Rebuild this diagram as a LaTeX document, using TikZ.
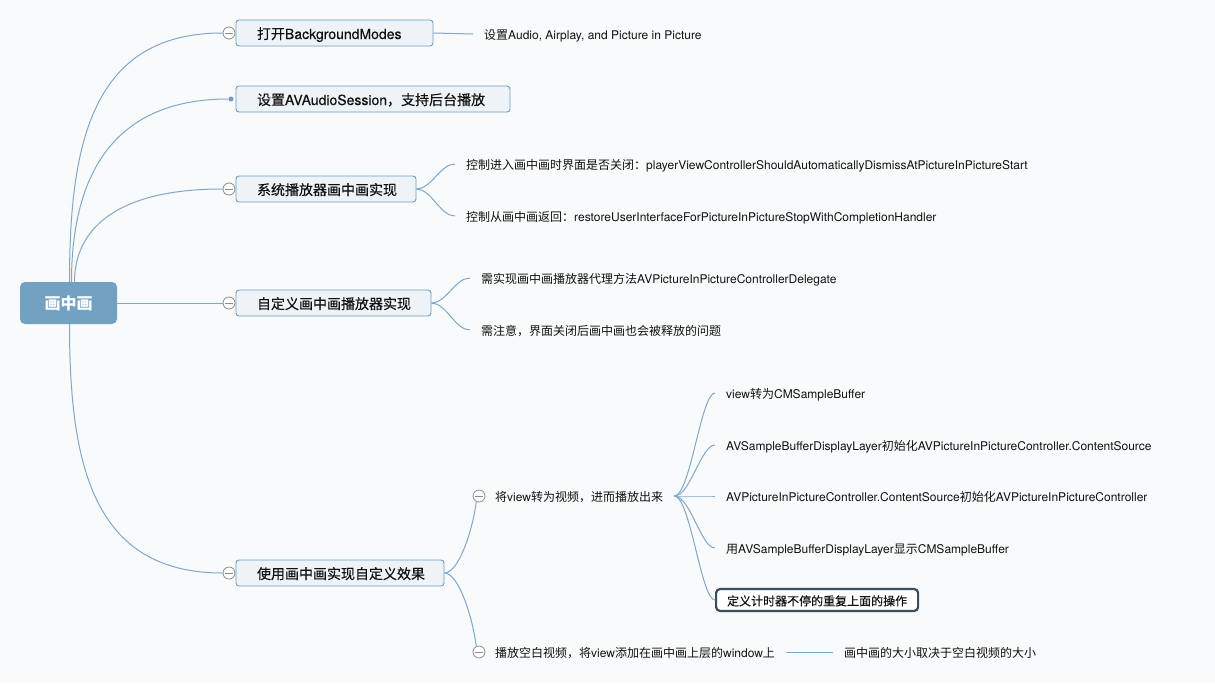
\documentclass[tikz,border=0pt]{standalone}
\usepackage{fontspec}
\setmainfont{TeX Gyre Heros}
\newfontfamily\cjk{Noto Sans CJK SC}
\newfontfamily\boxlat{TeX Gyre Heros}[FakeBold=0.3]
\newfontfamily\boxcjk{Noto Sans CJK SC}[FakeBold=0.3]
\newcommand\zhfont{\cjk}
\newcommand\zh[1]{{\zhfont #1}}
\definecolor{bg}{HTML}{F9FAFB}
\definecolor{linec}{HTML}{7FA8CA}
\definecolor{boxb}{HTML}{6E9DC3}
\definecolor{boxf}{HTML}{EEF3F7}
\definecolor{rootc}{HTML}{73A1C2}
\definecolor{txt}{HTML}{111111}
\definecolor{darkb}{HTML}{3A4D5E}
\definecolor{circ}{HTML}{8C8C8C}
\tikzset{
  conn/.style={draw=linec, line width=1pt},
  branch/.style={draw=boxb, fill=boxf, rounded corners=3pt, line width=0.9pt,
    minimum height=26pt, inner xsep=21pt, inner ysep=0pt, align=left,
    text height=13pt, text depth=1pt,
    font=\let\zhfont\boxcjk\boxlat\fontsize{14}{16}\selectfont, text=txt},
  leaf/.style={anchor=west, inner xsep=11pt, inner ysep=2pt,
    text height=11.5pt, text depth=0.5pt,
    font=\fontsize{12}{14}\selectfont, text=txt},
  collapse/.style={circle, draw=circ, fill=white, line width=0.8pt,
    minimum size=12pt, inner sep=0pt,
    path picture={\draw[circ, line width=0.8pt]
      ([xshift=-3.6pt]path picture bounding box.center) --
      ([xshift=3.6pt]path picture bounding box.center);}},
  dotm/.style={circle, fill=boxb, minimum size=5pt, inner sep=0pt},
  rootbox/.style={fill=rootc, rounded corners=5pt, minimum width=97pt,
    minimum height=42pt, inner sep=0pt, text=white,
    font=\cjk\bfseries\fontsize{16}{18}\selectfont},
  lastbox/.style={anchor=west, draw=darkb, line width=2.2pt, fill=white,
    rounded corners=4pt, minimum height=22pt, inner xsep=11pt, inner ysep=0pt,
    text height=11.5pt, text depth=0.5pt,
    font=\let\zhfont\boxcjk\fontsize{12}{14}\selectfont, text=txt}
}
\begin{document}
\begin{tikzpicture}[x=1pt, y=-1pt]
\useasboundingbox (0,0) rectangle (1215,683);
\fill[bg] (0,0) rectangle (1215,683);

% root
\node[rootbox] (root) at (68.5,303) {画中画};

% branches
\node[branch, text width=155pt] (b1) at (334.5,33) {\zh{打开}BackgroundModes};
\node[branch, text width=232pt] (b2) at (373,99) {\zh{设置}AVAudioSession\zh{，支持后台播放}};
\node[branch, text width=138pt] (b3) at (326,189) {\zh{系统播放器画中画实现}};
\node[branch, text width=153pt] (b4) at (333.5,303) {\zh{自定义画中画播放器实现}};
\node[branch, text width=166pt] (b5) at (340,573) {\zh{使用画中画实现自定义效果}};

\node[collapse] (c1) at (229,33) {};
\node[dotm] (c2) at (231,99) {};
\node[collapse] (c3) at (229,189) {};
\node[collapse] (c4) at (229,303) {};
\node[collapse] (c5) at (229,573) {};

% root connectors
\draw[conn] ([xshift=1pt]root.north) .. controls +(0,-140) and +(-130,0) .. (c1.west);
\draw[conn] ([xshift=3pt]root.north) .. controls +(0,-100) and +(-120,0) .. (c2.west);
\draw[conn] ([xshift=6pt]root.north) .. controls +(0,-50) and +(-110,0) .. (c3.west);
\draw[conn] (root.east) -- (c4.west);
\draw[conn] ([xshift=1pt]root.south) .. controls +(0,140) and +(-130,0) .. (c5.west);

% branch 1
\node[leaf] (l1) at (473,34) {\zh{设置}Audio, Airplay, and Picture in Picture};
\draw[conn] (b1.east) -- (l1.west);

% branch 3
\node[leaf] (l31) at (455,164) {\zh{控制进入画中画时界面是否关闭：}playerViewControllerShouldAutomaticallyDismissAtPictureInPictureStart};
\node[leaf] (l32) at (455,216) {\zh{控制从画中画返回：}restoreUserInterfaceForPictureInPictureStopWithCompletionHandler};
\draw[conn] (b3.east) .. controls +(15,0) and +(-15,0) .. (l31.west);
\draw[conn] (b3.east) .. controls +(15,0) and +(-15,0) .. (l32.west);

% branch 4
\node[leaf] (l41) at (470,278) {\zh{需实现画中画播放器代理方法}AVPictureInPictureControllerDelegate};
\node[leaf] (l42) at (470,330) {\zh{需注意，界面关闭后画中画也会被释放的问题}};
\draw[conn] (b4.east) .. controls +(15,0) and +(-15,0) .. (l41.west);
\draw[conn] (b4.east) .. controls +(15,0) and +(-15,0) .. (l42.west);

% branch 5
\node[collapse] (c51) at (479,496) {};
\node[leaf] (s1) at (484,496) {\zh{将}view\zh{转为视频，进而播放出来}};
\node[collapse] (c52) at (479,652) {};
\node[leaf] (s2) at (484,652) {\zh{播放空白视频，将}view\zh{添加在画中画上层的}window\zh{上}};
\draw[conn] (b5.east) .. controls +(14,0) and +(-4,30) .. (c51.-115);
\draw[conn] (b5.east) .. controls +(14,0) and +(-4,-30) .. (c52.115);

\node[leaf] (s11) at (715,393) {view\zh{转为}CMSampleBuffer};
\node[leaf] (s12) at (715,445) {AVSampleBufferDisplayLayer\zh{初始化}AVPictureInPictureController.ContentSource};
\node[leaf] (s13) at (715,496) {AVPictureInPictureController.ContentSource\zh{初始化}AVPictureInPictureController};
\node[leaf] (s14) at (715,548) {\zh{用}AVSampleBufferDisplayLayer\zh{显示}CMSampleBuffer};
\node[lastbox] (s15) at (715,600) {\zh{定义计时器不停的重复上面的操作}};
\foreach \t in {s11,s12,s13,s14,s15}
  \draw[conn] (s1.east) .. controls +(16,0) and +(-14,0) .. (\t.west);

\node[leaf] (s21) at (833,652) {\zh{画中画的大小取决于空白视频的大小}};
\draw[conn] (s2.east) -- (s21.west);
\end{tikzpicture}
\end{document}
